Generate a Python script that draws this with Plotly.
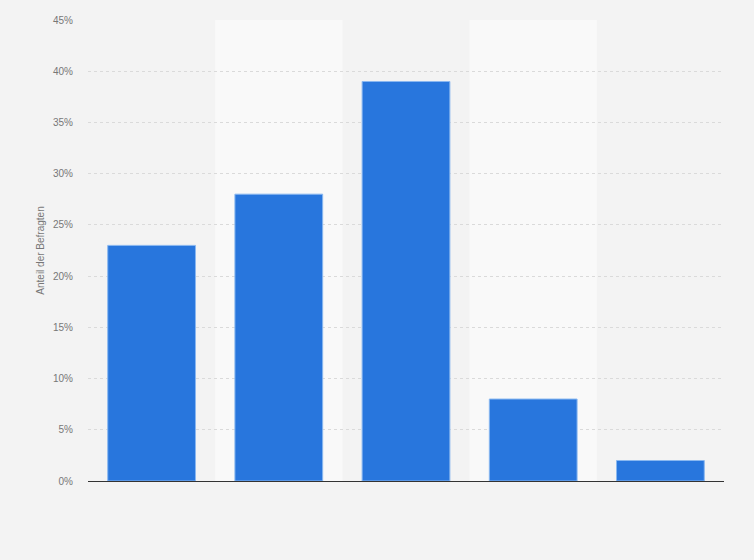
import plotly.graph_objects as go

# Werte (Anteil in %)
kategorien = ["Kategorie 1", "Kategorie 2", "Kategorie 3", "Kategorie 4", "Kategorie 5"]
anteile = [23, 28, 39, 8, 2]
y_ticks = [0, 5, 10, 15, 20, 25, 30, 35, 40, 45]
y_labels = [f"{v}%" for v in y_ticks]

fig = go.Figure()
fig.add_trace(go.Bar(
    x=kategorien, y=anteile,
    marker=dict(color="#2876dd", line=dict(color="#8ab8f0", width=1)),
    hoverinfo="x+y",
))

# helle Hintergrundstreifen hinter jeder zweiten Kategorie
for i in range(1, len(kategorien), 2):
    fig.add_shape(type="rect", xref="x", yref="paper",
                  x0=i - 0.5, x1=i + 0.5, y0=0, y1=1,
                  fillcolor="#f9f9f9", line=dict(width=0), layer="below")

fig.update_layout(
    width=754, height=560,
    margin=dict(l=88, r=30, t=20, b=79),
    paper_bgcolor="#f3f3f3", plot_bgcolor="#f3f3f3",
    bargap=0.31,
    showlegend=False,
    font=dict(family="Arial, Liberation Sans, sans-serif", color="#666666"),
)
fig.update_xaxes(
    showticklabels=False, showgrid=False,
    showline=True, linecolor="#333333", linewidth=1.2,
    range=[-0.5, 4.5],
)
fig.update_yaxes(
    range=[0, 45], tickvals=y_ticks, ticktext=y_labels,
    tickfont=dict(size=10, color="#777777"),
    showgrid=True, gridcolor="#dadada", griddash="dot", gridwidth=1,
    zeroline=False, ticks="", ticklabelstandoff=14,
    title=dict(text="Anteil der Befragten", font=dict(size=10, color="#777777"), standoff=6),
)

fig.write_html("out.html", config={"displayModeBar": False},
               post_script="document.body.style.margin='0';")
